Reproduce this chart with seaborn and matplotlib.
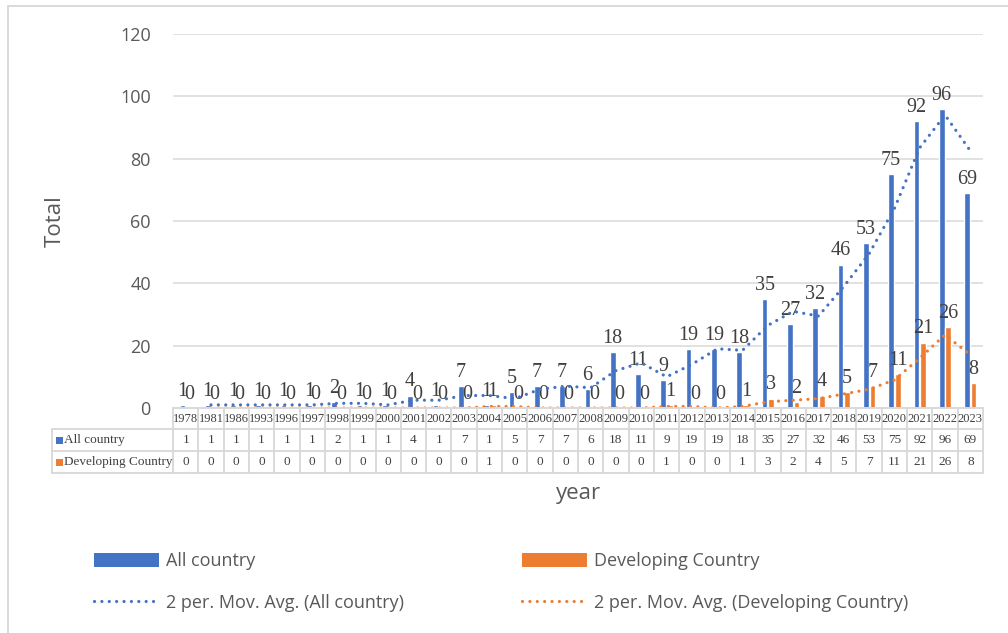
import matplotlib
matplotlib.use("Agg")
import matplotlib.pyplot as plt
import matplotlib.transforms as mtransforms
from matplotlib.patches import Rectangle, Patch
from matplotlib.lines import Line2D
import seaborn as sns
import pandas as pd
import numpy as np

years = ["1978", "1981", "1986", "1993", "1996", "1997", "1998", "1999", "2000", "2001",
         "2002", "2003", "2004", "2005", "2006", "2007", "2008", "2009", "2010", "2011",
         "2012", "2013", "2014", "2015", "2016", "2017", "2018", "2019", "2020", "2021",
         "2022", "2023"]
all_country = [1, 1, 1, 1, 1, 1, 2, 1, 1, 4, 1, 7, 1, 5, 7, 7, 6, 18, 11, 9,
               19, 19, 18, 35, 27, 32, 46, 53, 75, 92, 96, 69]
developing = [0, 0, 0, 0, 0, 0, 0, 0, 0, 0, 0, 0, 1, 0, 0, 0, 0, 0, 0, 1,
              0, 0, 1, 3, 2, 4, 5, 7, 11, 21, 26, 8]
series_names = ["All country", "Developing Country"]
ma_names = ["2 per. Mov. Avg. (All country)", "2 per. Mov. Avg. (Developing Country)"]
colors = {"All country": "#4472C4", "Developing Country": "#ED7D31"}
y_ticks = [0, 20, 40, 60, 80, 100, 120]

df = pd.DataFrame({
    "year": years * 2,
    "series": [series_names[0]] * len(years) + [series_names[1]] * len(years),
    "value": all_country + developing,
})

sns.set_theme(style="white")
SANS = ["Open Sans", "DejaVu Sans"]
SERIF = ["Liberation Serif", "DejaVu Serif"]
plt.rcParams["font.family"] = SANS

W, H = 1008, 633
fig = plt.figure(figsize=(W / 100, H / 100), dpi=100)
ax_left, ax_right, ax_top, ax_bot = 173, 983, 34, 408
ax = fig.add_axes([ax_left / W, 1 - ax_bot / H, (ax_right - ax_left) / W, (ax_bot - ax_top) / H])

sns.barplot(data=df, x="year", y="value", hue="series", order=years, hue_order=series_names,
            palette=colors, width=0.52, gap=0.14, legend=False, ax=ax, saturation=1)

for cont in ax.containers:
    ax.bar_label(cont, padding=3, fontsize=14.5, color="#404040", family=SERIF)

def mov_avg(v):
    return [(v[i - 1] + v[i]) / 2 for i in range(1, len(v))]

xs = np.arange(1, len(years))
dot = (0, (0.01, 2.3))
for vals, name in zip([all_country, developing], series_names):
    ax.plot(xs, mov_avg(vals), color=colors[name], linewidth=2.3, linestyle=dot,
            dash_capstyle="round", zorder=3)

ax.set_xlim(-0.5, len(years) - 0.5)
ax.set_ylim(0, 120)
ax.set_yticks(y_ticks)
ax.tick_params(axis="y", length=0, pad=16, labelsize=13, labelcolor="#595959")
ax.set_xticks([])
ax.set_xlabel("")
ax.set_ylabel("")
ax.grid(axis="y", color="#D9D9D9", linewidth=1.1)
ax.set_axisbelow(True)
for s in ax.spines.values():
    s.set_visible(False)

# data table below the axes
gc = "#D9D9D9"
lw = 1.4
blend = mtransforms.blended_transform_factory(ax.transData, fig.transFigure)
fy = lambda py: 1 - py / H
fx = lambda px: px / W
r0, r1, r2, r3 = 408, 429, 451, 473
tbl_left = 52
n = len(years)
for i in range(n + 1):
    x = i - 0.5
    fig.add_artist(Line2D([x, x], [fy(r0), fy(r3)], transform=blend, color=gc, lw=lw))
fig.add_artist(Line2D([-0.5, n - 0.5], [fy(r0), fy(r0)], transform=blend, color=gc, lw=lw))
for ry in (r1, r2, r3):
    fig.add_artist(Line2D([fx(tbl_left), fx(ax_right)], [fy(ry), fy(ry)],
                          transform=fig.transFigure, color=gc, lw=lw))
fig.add_artist(Line2D([fx(tbl_left), fx(tbl_left)], [fy(r1), fy(r3)],
                      transform=fig.transFigure, color=gc, lw=lw))

for i, yr in enumerate(years):
    fig.text(i, fy((r0 + r1) / 2), yr, transform=blend, ha="center", va="center",
             fontsize=9, family=SERIF, color="#404040")
    fig.text(i, fy((r1 + r2) / 2), str(all_country[i]), transform=blend, ha="center",
             va="center", fontsize=9.5, family=SERIF, color="#404040")
    fig.text(i, fy((r2 + r3) / 2), str(developing[i]), transform=blend, ha="center",
             va="center", fontsize=9.5, family=SERIF, color="#404040")

for ry0, ry1, name in [(r1, r2, series_names[0]), (r2, r3, series_names[1])]:
    cy = (ry0 + ry1) / 2
    fig.add_artist(Rectangle((fx(56), fy(cy + 3.5)), 7 / W, 7 / H, transform=fig.transFigure,
                             color=colors[name], lw=0))
    fig.text(fx(64), fy(cy), name, ha="left", va="center", fontsize=9.5, family=SERIF,
             color="#404040")

# axis titles
fig.text(fx(55), fy((ax_top + ax_bot) / 2), "Total", rotation=90, ha="center", va="center",
         fontsize=16, color="#595959")
fig.text(fx((ax_left + ax_right) / 2), fy(493), "year", ha="center", va="center",
         fontsize=16, color="#595959")

# legend
handles = [
    Patch(facecolor=colors[series_names[0]], edgecolor="none"),
    Line2D([], [], color=colors[series_names[0]], lw=2.3, linestyle=dot, dash_capstyle="round"),
    Patch(facecolor=colors[series_names[1]], edgecolor="none"),
    Line2D([], [], color=colors[series_names[1]], lw=2.3, linestyle=dot, dash_capstyle="round"),
]
labels = [series_names[0], ma_names[0], series_names[1], ma_names[1]]
leg = fig.legend(handles, labels, ncol=2, loc="center left",
                 bbox_to_anchor=(fx(78), fy(582)), frameon=False, fontsize=13,
                 handlelength=3.6, handleheight=0.8, handletextpad=0.4,
                 columnspacing=6.5, labelspacing=1.3, labelcolor="#595959")

# outer chart border (left & top visible)
fig.add_artist(Line2D([fx(8), fx(8)], [fy(6), 0], transform=fig.transFigure, color=gc, lw=1.4))
fig.add_artist(Line2D([fx(8), 1], [fy(6), fy(6)], transform=fig.transFigure, color=gc, lw=1.4))

fig.savefig("out.png", dpi=100)
